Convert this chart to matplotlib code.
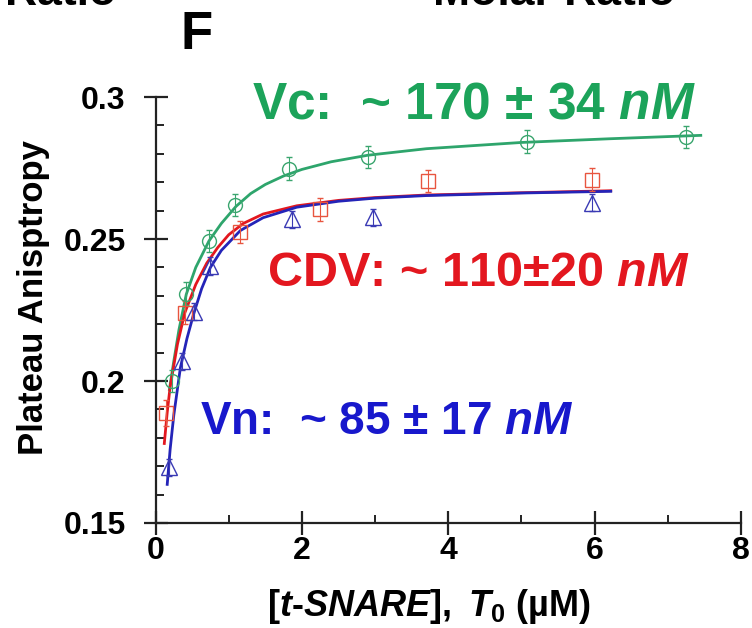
"""Panel F: plateau anisotropy vs [t-SNARE] for Vc, CDV and Vn, with binding fits."""

import matplotlib
matplotlib.use("Agg")
import matplotlib.pyplot as plt  # noqa: E402
from matplotlib.ticker import MultipleLocator  # noqa: E402

plt.rcParams["font.family"] = ["Liberation Sans", "DejaVu Sans"]
plt.rcParams["font.weight"] = "bold"
plt.rcParams["mathtext.fontset"] = "custom"
plt.rcParams["mathtext.rm"] = "Liberation Sans:bold"
plt.rcParams["mathtext.it"] = "Liberation Sans:italic:bold"
plt.rcParams["mathtext.bf"] = "Liberation Sans:bold"

vc_x = [0.22, 0.42, 0.73, 1.09, 1.83, 2.90, 5.08, 7.25]
vc_y = [0.200, 0.2307, 0.2493, 0.2620, 0.2748, 0.2789, 0.2843, 0.2859]
vc_err = [0.004, 0.004, 0.004, 0.004, 0.004, 0.004, 0.004, 0.004]

cdv_x = [0.14, 0.40, 1.15, 2.25, 3.72, 5.97]
cdv_y = [0.1888, 0.2240, 0.2525, 0.2605, 0.2704, 0.2709]
cdv_err = [0.0046, 0.004, 0.004, 0.004, 0.004, 0.004]

vn_x = [0.19, 0.36, 0.53, 0.75, 1.87, 2.97, 5.97]
vn_y = [0.1697, 0.2070, 0.2244, 0.2405, 0.2569, 0.2577, 0.2628]
vn_err = [0.003, 0.003, 0.003, 0.003, 0.003, 0.003, 0.003]

# fitted curves
vc_fit_x = [0.19, 0.25, 0.32, 0.42, 0.55, 0.73, 0.90, 1.10, 1.30, 1.50, 1.75, 2.00, 2.40, 2.90,
            3.70, 5.00, 6.20, 7.45]
vc_fit_y = [0.197, 0.207, 0.218, 0.2305, 0.240, 0.2493, 0.2555, 0.2615, 0.2660, 0.2692, 0.2722,
            0.2745, 0.2772, 0.2795, 0.2818, 0.2840, 0.2853, 0.2865]

cdv_fit_x = [0.12, 0.16, 0.20, 0.30, 0.40, 0.55, 0.70, 0.85, 1.00, 1.20, 1.47, 1.93, 2.50, 3.00,
             3.70, 5.00, 6.22]
cdv_fit_y = [0.178, 0.189, 0.198, 0.213, 0.224, 0.234, 0.2415, 0.247, 0.2515, 0.2555, 0.2588,
             0.2617, 0.2636, 0.2646, 0.2655, 0.2663, 0.2670]

vn_fit_x = [0.16, 0.20, 0.25, 0.34, 0.43, 0.52, 0.63, 0.75, 0.90, 1.16, 1.47, 1.93, 2.50, 3.00,
            3.70, 5.00, 6.22]
vn_fit_y = [0.1636, 0.176, 0.188, 0.2047, 0.2150, 0.2235, 0.2325, 0.2400, 0.2460, 0.2530, 0.2575,
            0.2612, 0.2633, 0.2644, 0.2653, 0.2662, 0.2668]

GREEN = "#1ca35a"
RED = "#e3171f"
BLUE = "#1818cc"

fig = plt.figure(figsize=(7.52, 6.28), dpi=100)
# axes box: x 0..8 -> px 155.5..741, y 0.15..0.3 -> px 523..97
ax = fig.add_axes([0.2068, 0.1672, 0.7786, 0.6783])

ax.plot(vc_fit_x, vc_fit_y, color="#2ea56c", lw=2.0)
ax.plot(cdv_fit_x, cdv_fit_y, color=RED, lw=2.0)
ax.plot(vn_fit_x, vn_fit_y, color="#2424b8", lw=2.0)

ax.errorbar(vc_x, vc_y, yerr=vc_err, fmt="o", ms=10, mfc="none", mec="#3aa56e", mew=1.0,
            ecolor="#3aa56e", elinewidth=0.8, capsize=2.5)
ax.errorbar(cdv_x, cdv_y, yerr=cdv_err, fmt="s", ms=9.5, mfc="none", mec="#e8553f", mew=1.0,
            ecolor="#e8553f", elinewidth=0.8, capsize=2.5)
ax.errorbar(vn_x, vn_y, yerr=vn_err, fmt="^", ms=11, mfc="none", mec="#3a3ab4", mew=1.0,
            ecolor="#3a3ab4", elinewidth=0.8, capsize=2.5)

ax.set_xlim(0, 8)
ax.set_ylim(0.15, 0.3)
ax.xaxis.set_major_locator(MultipleLocator(2))
ax.xaxis.set_minor_locator(MultipleLocator(1))
ax.yaxis.set_minor_locator(MultipleLocator(0.01))
ax.set_yticks([0.15, 0.2, 0.25, 0.3], ["0.15", "0.2", "0.25", "0.3"])

for side in ("top", "right"):
    ax.spines[side].set_visible(False)
for side in ("left", "bottom"):
    ax.spines[side].set_linewidth(1.6)
    ax.spines[side].set_color("#222222")
ax.tick_params(which="major", direction="inout", length=17, width=1.6, color="#222222")
ax.tick_params(which="minor", direction="in", length=5.5, width=1.4, color="#222222")
ax.tick_params(axis="x", which="major", labelsize=23, pad=1)
ax.tick_params(axis="y", which="major", labelsize=23, pad=13)

ax.set_ylabel("Plateau Anisptropy", fontsize=25, fontweight="bold")
ax.yaxis.set_label_coords(-0.18, 0.53)
ax.set_xlabel(r"$[t$-$SNARE],\ T_0$ (µM)", fontsize=26, fontweight="bold")
ax.xaxis.set_label_coords(0.467, -0.150)

ax.text(1.32, 0.2926, r"Vc:  ~ 170 ± 34 $nM$", color=GREEN, fontsize=37, fontweight="bold",
        ha="left", va="baseline")
ax.text(1.52, 0.2335, r"CDV: ~ 110±20 $nM$", color=RED, fontsize=35, fontweight="bold",
        ha="left", va="baseline")
ax.text(0.61, 0.1813, r"Vn:  ~ 85 ± 17 $nM$", color=BLUE, fontsize=33, fontweight="bold",
        ha="left", va="baseline")

fig.text(0.261, 0.944, "F", fontsize=38, fontweight="bold", ha="center", va="center")
# clipped headings from the neighbouring panels
fig.text(0.154, 0.992, "Ratio", fontsize=32, fontweight="bold", ha="right", va="baseline")
fig.text(0.576, 0.992, "Molar Ratio", fontsize=32, fontweight="bold", ha="left", va="baseline")

fig.savefig("out.png", dpi=100)
